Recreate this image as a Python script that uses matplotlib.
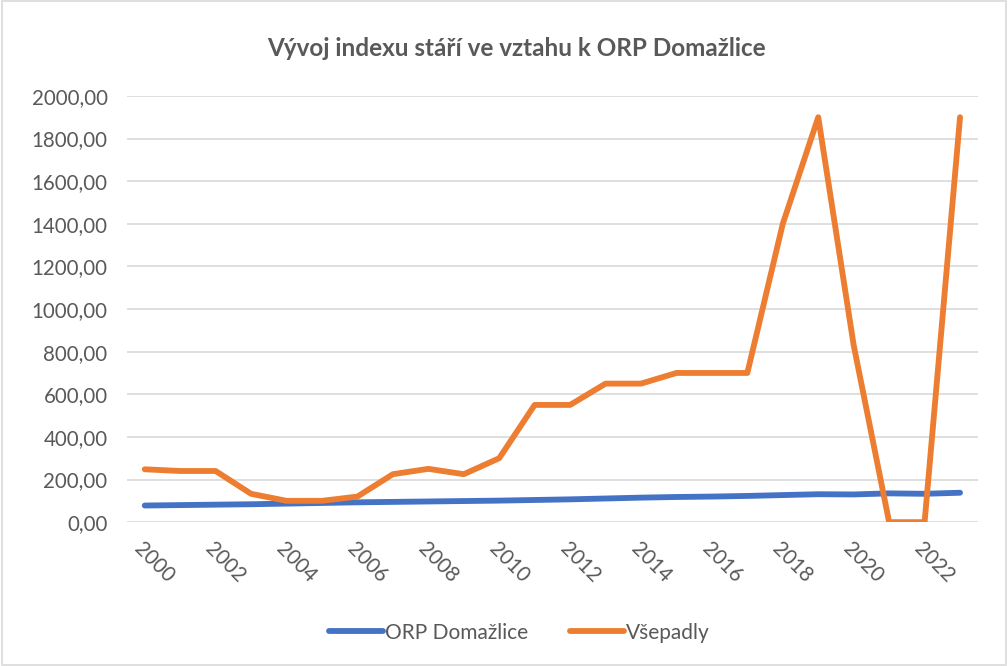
import matplotlib.pyplot as plt
from matplotlib.ticker import FuncFormatter

years = list(range(2000, 2024))
orp_domazlice = [78, 80, 82, 84, 87, 90, 93, 95, 97, 99, 101, 104, 107, 111, 115, 118,
                 120, 123, 127, 131, 130, 135, 133, 138]
vsepadly = [248, 240, 240, 133, 100, 100, 120, 225, 250, 225, 300, 550, 550, 650, 650, 700,
            700, 700, 1400, 1900, 830, 0, 0, 1900]

plt.rcParams['font.family'] = ['Lato', 'DejaVu Sans']
text_color = '#595959'

fig = plt.figure(figsize=(10.08, 6.66), dpi=100)
ax = fig.add_axes([0.126, 0.216, 0.844, 0.64])

ax.plot(years, orp_domazlice, color='#4472C4', linewidth=4.2, label='ORP Domažlice',
        solid_capstyle='round', solid_joinstyle='round')
ax.plot(years, vsepadly, color='#ED7D31', linewidth=4.2, label='Všepadly',
        solid_capstyle='round', solid_joinstyle='round')

ax.set_ylim(0, 2000)
ax.set_yticks(range(0, 2001, 200))
ax.yaxis.set_major_formatter(FuncFormatter(lambda v, p: f"{v:.2f}".replace('.', ',')))
ax.set_xlim(1999.5, 2023.5)
ax.set_xticks(range(2000, 2023, 2))
ax.tick_params(axis='both', length=0, labelsize=14.8, labelcolor=text_color)
ax.tick_params(axis='y', pad=14)
ax.tick_params(axis='x', pad=12)
for lbl in ax.get_xticklabels():
    lbl.set_rotation(-45)
    lbl.set_ha('left')
    lbl.set_va('top')
    lbl.set_rotation_mode('anchor')

ax.grid(axis='y', color='#D9D9D9', linewidth=1.2)
ax.set_axisbelow(True)
for s in ax.spines.values():
    s.set_visible(False)

fig.text(0.512, 0.927, 'Vývoj indexu stáří ve vztahu k ORP Domažlice', ha='center', va='center',
         fontsize=17.5, fontweight='bold', color=text_color)

fig.legend(loc='center', bbox_to_anchor=(0.515, 0.05), ncol=2, frameon=False, fontsize=15,
           labelcolor=text_color, handlelength=2.6, handletextpad=0.1, columnspacing=2.0)

# chart border
fig.patches.append(plt.Rectangle((0.002, 0.002), 0.996, 0.996, transform=fig.transFigure,
                                 fill=False, edgecolor='#D9D9D9', linewidth=1.2))

fig.savefig('out.png', dpi=100)
